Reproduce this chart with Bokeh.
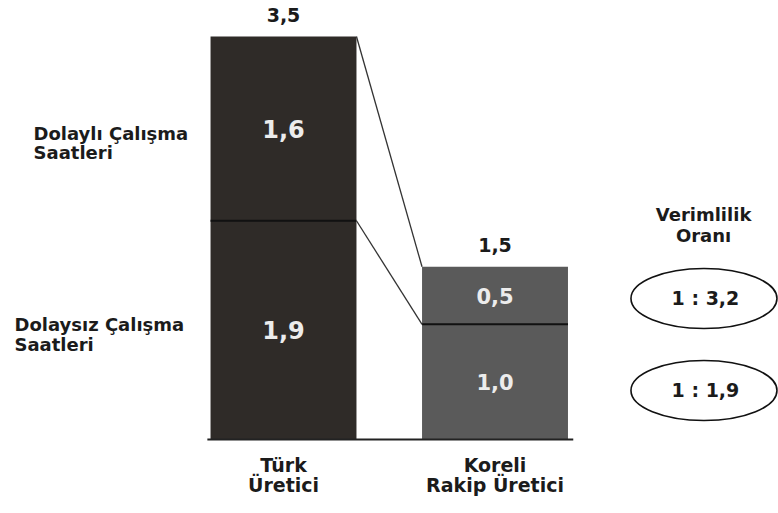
from bokeh.plotting import figure
from bokeh.models import Range1d, ColumnDataSource
from bokeh.core.properties import value
from bokeh.embed import file_html
from bokeh.resources import INLINE

# ---- data ----
categories = ["Türk\nÜretici", "Koreli\nRakip Üretici"]
direct_hours = [1.9, 1.0]      # Dolaysız Çalışma Saatleri
indirect_hours = [1.6, 0.5]    # Dolaylı Çalışma Saatleri
row_labels = ["Dolaylı Çalışma\nSaatleri", "Dolaysız Çalışma\nSaatleri"]
ratio_title = "Verimlilik\nOranı"
bar_colors = ["#2f2b28", "#5a5a5a"]


def fmt(v):
    return f"{v:.1f}".replace(".", ",")


totals = [d + i for d, i in zip(direct_hours, indirect_hours)]
ratio_values = [indirect_hours[0] / indirect_hours[1], direct_hours[0] / direct_hours[1]]
ratio_labels = ["1 : " + fmt(r) for r in ratio_values]

xs = list(range(len(categories)))
bar_w = 0.69

FONT = value("DejaVu Sans")
TXT = "#1b1b1b"
inner_sizes = ["24px", "21px"]

p = figure(width=778, height=513, output_backend="svg", toolbar_location=None,
           x_range=Range1d(-1.3381, 2.3404), y_range=Range1d(-0.6427, 3.8127),
           x_axis_location=None, y_axis_location=None, min_border=0,
           tools="")
p.grid.visible = False
p.outline_line_color = None
p.background_fill_color = "white"
p.border_fill_color = "white"

# stacked bars
src_direct = ColumnDataSource(dict(x=xs, bottom=[0] * len(xs), top=direct_hours, color=bar_colors,
                                   mid=[d / 2 for d in direct_hours],
                                   lab=[fmt(v) for v in direct_hours], fs=inner_sizes))
src_ind = ColumnDataSource(dict(x=xs, bottom=direct_hours, top=totals, color=bar_colors,
                                mid=[d + i / 2 for d, i in zip(direct_hours, indirect_hours)],
                                lab=[fmt(v) for v in indirect_hours], fs=inner_sizes))
p.vbar(x="x", bottom="bottom", top="top", width=bar_w, fill_color="color", line_color=None, source=src_direct)
p.vbar(x="x", bottom="bottom", top="top", width=bar_w, fill_color="color", line_color=None, source=src_ind)

# boundary between segments
p.segment(x0=[x - bar_w / 2 for x in xs], x1=[x + bar_w / 2 for x in xs],
          y0=direct_hours, y1=direct_hours, line_color="#111111", line_width=2)

# baseline
p.segment(x0=[xs[0] - bar_w / 2 - 0.015], x1=[xs[-1] + bar_w / 2 + 0.025], y0=[0], y1=[0],
          line_color="#222222", line_width=2.2)

# connecting lines between bars
p.segment(x0=[xs[0] + bar_w / 2] * 2, x1=[xs[1] - bar_w / 2] * 2,
          y0=[totals[0], direct_hours[0]], y1=[totals[1], direct_hours[1]],
          line_color="#333333", line_width=1.3)

# inner value labels
for src in (src_direct, src_ind):
    p.text(x="x", y="mid", text="lab", source=src,
           text_font=FONT, text_font_style="bold", text_font_size="fs", text_color="#ececec",
           text_align="center", text_baseline="middle")

# totals
p.text(x=xs, y=totals, text=[fmt(v) for v in totals], y_offset=-22,
       text_font=FONT, text_font_style="bold", text_font_size="19px", text_color=TXT,
       text_align="center", text_baseline="alphabetic")

# category labels
p.text(x=xs, y=[-0.31] * len(xs), text=categories,
       text_font=FONT, text_font_style="bold", text_font_size="19px", text_color=TXT,
       text_align="center", text_baseline="middle", text_line_height=0.92)

# left row labels
p.text(x=[-1.182, -1.272], y=[2.575, 0.912], text=row_labels,
       text_font=FONT, text_font_style="bold", text_font_size="18px", text_color=TXT,
       text_align="left", text_baseline="middle", text_line_height=0.95)

# productivity ratio
p.text(x=[1.986], y=[1.859], text=[ratio_title],
       text_font=FONT, text_font_style="bold", text_font_size="18px", text_color=TXT,
       text_align="center", text_baseline="middle", text_line_height=1.0)
ell_y = [1.2246, 0.4256]
p.ellipse(x=[1.988] * 2, y=ell_y, width=146, height=60, width_units="screen", height_units="screen",
          fill_color="white", line_color="#111111", line_width=1.6)
p.text(x=[1.995] * 2, y=ell_y, text=ratio_labels,
       text_font=FONT, text_font_style="bold", text_font_size="19px", text_color=TXT,
       text_align="center", text_baseline="middle")

open("out.html", "w").write(file_html(p, INLINE))
